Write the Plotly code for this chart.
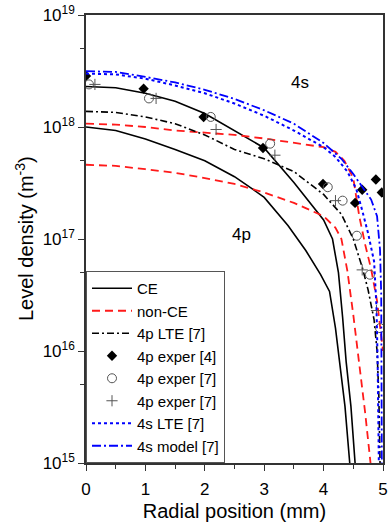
import plotly.graph_objects as go

# ---------------- data ----------------
# CE 4s (upper black solid)
ce4s_x = [0, 0.5, 1.0, 1.5, 2.0, 2.5, 3.0, 3.5, 3.8, 4.0, 4.15, 4.25, 4.32, 4.38, 4.46, 4.53]
ce4s_y = [2.3e18, 2.24e18, 2.0e18, 1.7e18, 1.32e18, 9.3e17, 6.5e17, 3.2e17, 2.0e17, 1.48e17,
          1.0e17, 5.0e16, 2.0e16, 8.0e15, 3.2e15, 1.0e15]
# CE 4p (lower black solid)
ce4p_x = [0, 0.5, 1.0, 1.5, 2.0, 2.5, 2.8, 3.0, 3.4, 3.7, 3.95, 4.1, 4.2, 4.27, 4.36, 4.44]
ce4p_y = [1.0e18, 9.3e17, 7.8e17, 6.3e17, 5.0e17, 3.6e17, 2.8e17, 2.35e17, 1.32e17, 7.9e16,
          4.8e16, 3.4e16, 1.6e16, 8.0e15, 3.2e15, 1.0e15]
# non-CE 4s (upper red dashed)
nce4s_x = [0, 0.5, 1.0, 1.5, 2.0, 2.5, 3.0, 3.5, 4.0, 4.2, 4.35, 4.5, 4.6, 4.7, 4.8, 4.9, 4.97, 5.0]
nce4s_y = [1.07e18, 1.05e18, 1.0e18, 9.3e17, 8.9e17, 8.5e17, 7.9e17, 7.2e17, 6.6e17, 6.0e17,
           5.0e17, 3.5e17, 1.6e17, 8.9e16, 5.4e16, 2.8e16, 1.4e16, 1.0e16]
# non-CE 4p (lower red dashed)
nce4p_x = [0, 0.5, 1.0, 1.5, 2.0, 2.5, 3.0, 3.5, 4.0, 4.2, 4.3, 4.4, 4.5, 4.6, 4.7, 4.79]
nce4p_y = [4.6e17, 4.5e17, 4.2e17, 3.9e17, 3.5e17, 3.1e17, 2.6e17, 2.1e17, 1.6e17, 1.26e17,
           1.0e17, 5.2e16, 2.1e16, 7.9e15, 2.8e15, 1.0e15]
# 4p LTE [7] (black dash-dot)
lte4p_x = [0, 0.5, 1.0, 1.5, 2.0, 2.5, 3.0, 3.5, 4.0, 4.3, 4.5, 4.65, 4.75, 4.85, 4.9, 4.93, 4.95]
lte4p_y = [1.38e18, 1.35e18, 1.23e18, 1.07e18, 8.5e17, 6.3e17, 5.2e17, 4.0e17, 2.5e17, 1.66e17,
           1.0e17, 5.6e16, 3.5e16, 1.9e16, 1.0e16, 4.0e15, 1.0e15]
# 4s LTE [7] (blue dotted)
lte4s_x = [0, 0.5, 1.0, 1.5, 2.0, 2.5, 3.0, 3.5, 4.0, 4.2, 4.4, 4.55, 4.65, 4.75, 4.85, 4.89, 4.91, 4.93]
lte4s_y = [3.0e18, 2.95e18, 2.7e18, 2.35e18, 2.0e18, 1.62e18, 1.26e18, 9.3e17, 6.6e17, 5.4e17,
           4.0e17, 2.8e17, 1.8e17, 1.12e17, 6.3e16, 2.5e16, 8.0e15, 1.0e15]
# 4s model [7] (blue dash-dot)
mod4s_x = [0, 0.5, 1.0, 1.5, 2.0, 2.5, 3.0, 3.5, 4.0, 4.3, 4.5, 4.65, 4.8, 4.9, 4.95, 4.97, 4.98]
mod4s_y = [3.15e18, 3.1e18, 2.8e18, 2.5e18, 2.15e18, 1.78e18, 1.41e18, 1.07e18, 7.2e17, 5.2e17,
           3.8e17, 2.95e17, 2.25e17, 1.6e17, 8.0e16, 3.2e16, 1.0e15]
# 4p exper [4] (filled diamonds)
exp4_x = [0.0, 0.97, 1.98, 2.98, 3.99, 4.53, 4.65, 4.88, 4.98]
exp4_y = [2.85e18, 2.2e18, 1.23e18, 6.5e17, 3.1e17, 2.1e17, 2.75e17, 3.4e17, 2.6e17]
# 4p exper [7] (open circles)
exp7c_x = [0.05, 1.06, 2.1, 3.1, 4.07, 4.32, 4.56, 4.78, 4.95]
exp7c_y = [2.4e18, 1.8e18, 1.23e18, 7.1e17, 2.9e17, 2.2e17, 1.07e17, 4.8e16, 1.6e16]
# 4p exper [7] (plus)
exp7p_x = [0.15, 1.18, 2.19, 3.18, 4.2, 4.65, 4.89]
exp7p_y = [2.4e18, 1.8e18, 9.5e17, 5.6e17, 2.2e17, 5.3e16, 2.3e16]

x_ticks = [0, 1, 2, 3, 4, 5]
y_tickvals = [1e15, 1e16, 1e17, 1e18, 1e19]
y_ticktext = ["10<sup>15</sup>", "10<sup>16</sup>", "10<sup>17</sup>", "10<sup>18</sup>", "10<sup>19</sup>"]
y_minor = [5e15, 5e16, 5e17, 5e18]

# ---------------- figure ----------------
FONT = "Liberation Sans, Arial, sans-serif"
fig = go.Figure()

def line(x, y, name, color, dash, width=1.6, show=True, group=None):
    fig.add_trace(go.Scatter(x=x, y=y, mode="lines", name=name, showlegend=show,
                             legendgroup=group or name,
                             line=dict(color=color, dash=dash, width=width)))

line(ce4s_x, ce4s_y, "CE", "black", "solid", group="CE")
line(ce4p_x, ce4p_y, "CE", "black", "solid", show=False, group="CE")
line(nce4s_x, nce4s_y, "non-CE", "#ff1a1a", "8px,5px", width=1.8, group="nCE")
line(nce4p_x, nce4p_y, "non-CE", "#ff1a1a", "8px,5px", width=1.8, show=False, group="nCE")
line(lte4p_x, lte4p_y, "4p LTE [7]", "black", "7px,3px,2px,3px")
fig.add_trace(go.Scatter(x=exp4_x, y=exp4_y, mode="markers", name="4p exper [4]",
                         marker=dict(symbol="diamond", size=8, color="black")))
fig.add_trace(go.Scatter(x=exp7c_x, y=exp7c_y, mode="markers", name="4p exper [7]",
                         marker=dict(symbol="circle-open", size=9, color="#555555",
                                     line=dict(width=1))))
fig.add_trace(go.Scatter(x=exp7p_x, y=exp7p_y, mode="markers", name="4p exper [7]",
                         marker=dict(symbol="cross-thin-open", size=8, color="#555555",
                                     line=dict(width=1, color="#555555"))))
line(lte4s_x, lte4s_y, "4s LTE [7]", "#0000ff", "dot", width=2)
line(mod4s_x, mod4s_y, "4s model [7]", "#0000ff", "9px,3px,2px,3px", width=1.8)

# callout lines (log10 units on the y axis)
callouts = [
    # 4s
    (3.35, 18.34, 2.455, 18.25), (3.35, 18.34, 2.47, 17.99), (3.35, 18.34, 3.55, 17.84),
    # 4p
    (2.52, 17.15, 1.76, 17.57), (2.52, 17.15, 2.15, 17.68), (2.52, 17.15, 2.81, 17.72),
]
for x0, y0, x1, y1 in callouts:
    fig.add_shape(type="line", x0=x0, y0=y0, x1=x1, y1=y1, xref="x", yref="y",
                  line=dict(color="black", width=1))
fig.add_annotation(x=3.6, y=18.40, text="4s", showarrow=False, xref="x", yref="y",
                   font=dict(size=17, color="black", family=FONT))
fig.add_annotation(x=2.61, y=17.04, text="4p", showarrow=False, xref="x", yref="y",
                   font=dict(size=17, color="black", family=FONT))
# y-axis title placed as a rotated annotation
fig.add_annotation(x=0, y=0.5, xref="paper", yref="paper", xshift=-62, textangle=-90,
                   text="Level density (m<sup>-3</sup>)", showarrow=False,
                   xanchor="center", yanchor="middle",
                   font=dict(size=20, color="black", family=FONT))

axis_common = dict(showline=True, linecolor="#333333", linewidth=1.6, mirror=True,
                   ticks="outside", tickcolor="#333333", tickwidth=1.3, ticklen=6,
                   showgrid=False, zeroline=False, automargin=False,
                   tickfont=dict(size=17, color="black", family=FONT))

fig.update_xaxes(range=[0, 5], tickvals=x_ticks, ticktext=[str(v) for v in x_ticks],
                 ticklabelstandoff=4,
                 minor=dict(dtick=0.5, tick0=0, ticks="outside", ticklen=4, tickcolor="#333333"),
                 title=dict(text="Radial position (mm)", font=dict(size=20, color="black", family=FONT),
                            standoff=6),
                 **axis_common)
fig.update_yaxes(type="log", range=[15, 19], tickmode="array", tickvals=y_tickvals,
                 ticktext=y_ticktext,
                 minor=dict(tickmode="array", tickvals=y_minor, ticks="outside", ticklen=4,
                            tickcolor="#333333"),
                 **axis_common)

fig.update_layout(
    width=392, height=525,
    margin=dict(l=86, r=9, t=15, b=62),
    paper_bgcolor="white", plot_bgcolor="white",
    font=dict(family=FONT, color="black"),
    legend=dict(x=0, y=0, xanchor="left", yanchor="bottom",
                bordercolor="#555555", borderwidth=1, bgcolor="white",
                font=dict(size=15, color="black", family=FONT),
                itemwidth=40, tracegroupgap=0),
    showlegend=True,
)

fig.write_html("out.html", config={"displayModeBar": False},
               post_script="document.body.style.margin='0px';")
